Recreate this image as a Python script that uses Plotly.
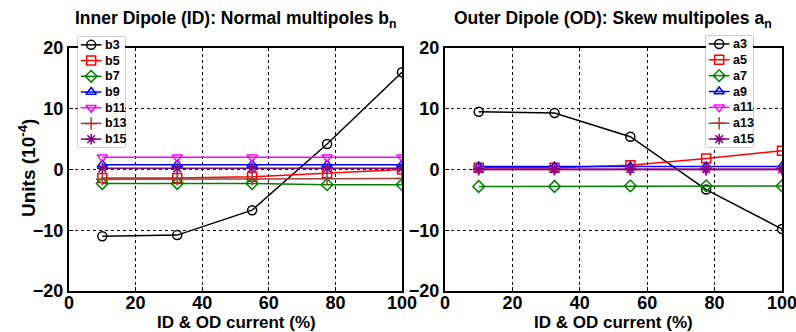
import plotly.graph_objects as go

current = [10, 32.5, 55, 77.5, 100]

b_names = ["b3", "b5", "b7", "b9", "b11", "b13", "b15"]
b3 = [-11.0, -10.8, -6.7, 4.2, 16.0]
b5 = [-1.4, -1.4, -1.2, -0.6, 0.0]
b7 = [-2.3, -2.3, -2.3, -2.5, -2.5]
b9 = [0.8, 0.8, 0.8, 0.8, 0.8]
b11 = [2.0, 2.0, 2.0, 2.0, 2.0]
b13 = [-1.6, -1.6, -1.6, -1.5, -1.5]
b15 = [0.2, 0.2, 0.2, 0.2, 0.2]

a_names = ["a3", "a5", "a7", "a9", "a11", "a13", "a15"]
a3 = [9.5, 9.3, 5.4, -3.3, -9.8]
a5 = [0.3, 0.3, 0.7, 1.8, 3.1]
a7 = [-2.8, -2.8, -2.7, -2.7, -2.7]
a9 = [0.5, 0.5, 0.5, 0.5, 0.5]
a11 = [0.0, 0.0, 0.0, 0.0, 0.0]
a13 = [0.0, 0.0, 0.0, 0.0, 0.0]
a15 = [0.05, 0.05, 0.05, 0.05, 0.05]

y_ticks = [-20, -10, 0, 10, 20]
x_ticks = [0, 20, 40, 60, 80, 100]

colors = ["black", "#ff0000", "#008000", "#0000ff", "#ff00ff", "#a0403a", "#800080"]
symbols = ["circle-open", "square-open", "diamond-open", "triangle-up-open",
           "triangle-down-open", "cross-thin-open", "asterisk-open"]

FONT = "Liberation Sans, Arial, sans-serif"
W, H = 796, 332


def px(x):
    return x / W


def py(y):
    return 1 - y / H


fig = go.Figure()

b_series = [b3, b5, b7, b9, b11, b13, b15]
a_series = [a3, a5, a7, a9, a11, a13, a15]


def marker(c, s):
    return dict(symbol=s, size=9, color=c, line=dict(color=c, width=1.5))


for name, vals, c, s in zip(b_names, b_series, colors, symbols):
    fig.add_trace(go.Scatter(x=current, y=vals, name=name, mode="lines+markers",
                             line=dict(color=c, width=1.5), marker=marker(c, s),
                             xaxis="x", yaxis="y", showlegend=False))
for name, vals, c, s in zip(a_names, a_series, colors, symbols):
    fig.add_trace(go.Scatter(x=current, y=vals, name=name, mode="lines+markers",
                             line=dict(color=c, width=1.5), marker=marker(c, s),
                             xaxis="x2", yaxis="y2", showlegend=False))

# custom legends drawn in their own small axes (legend box area)
annotations = []
shapes = []
legend_boxes = [("x3", "y3", b_names, (78, 125, 37, 147)),
                ("x4", "y4", a_names, (706, 753, 36, 147))]
n_items = len(b_names)
for xa, ya, names, (x0, x1, y0, y1) in legend_boxes:
    shapes.append(dict(type="rect", xref="paper", yref="paper",
                       x0=px(x0), x1=px(x1), y0=py(y1), y1=py(y0),
                       line=dict(color="#999999", width=1), fillcolor="white", layer="below"))
    for i, (name, c, s) in enumerate(zip(names, colors, symbols)):
        yy = n_items - 0.5 - i
        fig.add_trace(go.Scatter(x=[0.06, 0.5], y=[yy, yy], mode="lines",
                                 line=dict(color=c, width=1.5), xaxis=xa, yaxis=ya,
                                 showlegend=False, hoverinfo="skip"))
        fig.add_trace(go.Scatter(x=[0.28], y=[yy], mode="markers", marker=marker(c, s),
                                 xaxis=xa, yaxis=ya, showlegend=False, hoverinfo="skip"))
        annotations.append(dict(text=name, x=0.53, y=yy, xref=xa, yref=ya,
                                xanchor="left", yanchor="middle", showarrow=False,
                                font=dict(family=FONT, size=12.5, color="black", weight="bold")))

axis_common = dict(showline=True, linecolor="black", linewidth=2, mirror=True,
                   ticks="inside", ticklen=4, tickcolor="black",
                   showgrid=True, gridcolor="black", gridwidth=1, griddash="dot",
                   zeroline=False, automargin=False, ticklabeloverflow="allow",
                   tickfont=dict(family=FONT, size=18, color="black", weight="bold"))
hidden = dict(visible=False, showgrid=False, zeroline=False, automargin=False, fixedrange=True)


def label(text, x, y, size, **kw):
    return dict(text=text, x=px(x), y=py(y), xref="paper", yref="paper",
                xanchor="center", yanchor="middle", showarrow=False,
                font=dict(family=FONT, size=size, color="black", weight="bold"), **kw)


ydom = [py(291), py(48)]
fig.update_layout(
    width=W, height=H,
    margin=dict(l=0, r=0, t=0, b=0, autoexpand=False),
    plot_bgcolor="white", paper_bgcolor="white",
    showlegend=False,
    xaxis=dict(domain=[px(69), px(402)], range=[0, 100], tickvals=x_ticks, anchor="y",
               ticklabelstandoff=-6, **axis_common),
    yaxis=dict(domain=ydom, range=[-20, 20], tickvals=y_ticks, anchor="x", **axis_common),
    xaxis2=dict(domain=[px(445), px(782)], range=[0, 100], tickvals=x_ticks, anchor="y2",
                ticklabelstandoff=-6, **axis_common),
    yaxis2=dict(domain=ydom, range=[-20, 20], tickvals=y_ticks, anchor="x2", **axis_common),
    xaxis3=dict(domain=[px(78), px(125)], range=[0, 1], anchor="y3", **hidden),
    yaxis3=dict(domain=[py(147), py(37)], range=[0, n_items], anchor="x3", **hidden),
    xaxis4=dict(domain=[px(706), px(753)], range=[0, 1], anchor="y4", **hidden),
    yaxis4=dict(domain=[py(147), py(36)], range=[0, n_items], anchor="x4", **hidden),
    shapes=shapes,
    annotations=annotations + [
        label("Inner Dipole (ID): Normal multipoles b<sub>n</sub>", 236, 20, 17.5),
        label("Outer Dipole (OD): Skew multipoles a<sub>n</sub>", 613, 20, 17.5),
        label("ID & OD current (%)", 236, 322.5, 17),
        label("ID & OD current (%)", 613, 322.5, 17),
        label("Units (10<sup>-4</sup>)", 27, 168, 19, textangle=-90),
    ],
)

fig.write_html("out.html", config={"displayModeBar": False},
               post_script="document.body.style.margin='0px';")
